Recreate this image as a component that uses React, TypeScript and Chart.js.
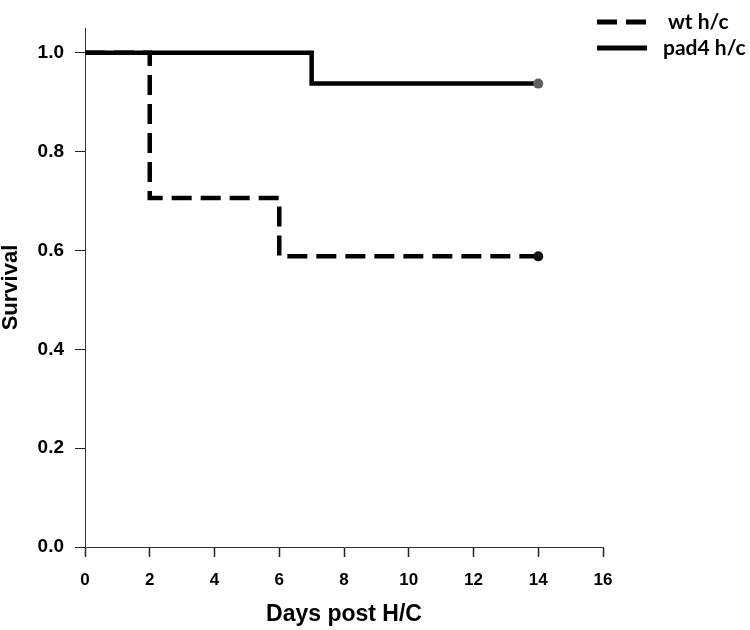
import React, { useEffect, useRef } from "react";
import { Chart, registerables } from "chart.js";

Chart.register(...registerables);

const seriesNames = ["wt h/c", "pad4 h/c"];
const wtDays = [0, 2, 6, 14];
const wtSurvival = [1.0, 0.706, 0.588, 0.588];
const pad4Days = [0, 7, 14];
const pad4Survival = [1.0, 0.9375, 0.9375];
const xTicks = [0, 2, 4, 6, 8, 10, 12, 14, 16];
const yTicks = [0, 0.2, 0.4, 0.6, 0.8, 1.0];
const xTitle = "Days post H/C";
const yTitle = "Survival";

const legendPlugin = {
  id: "kmLegend",
  afterDraw(chart: any) {
    const ctx = chart.ctx;
    const items = chart.data.datasets;
    const x0 = 597;
    const lineLen = 50;
    const textX = 663;
    const ys = [22, 48];
    ctx.save();
    items.forEach((ds: any, i: number) => {
      const y = ys[i];
      ctx.beginPath();
      ctx.setLineDash(ds.borderDash || []);
      ctx.lineWidth = 5;
      ctx.strokeStyle = "#000";
      ctx.moveTo(x0, y);
      ctx.lineTo(x0 + lineLen, y);
      ctx.stroke();
      ctx.setLineDash([]);
      ctx.fillStyle = "#000";
      ctx.font = "bold 21px Lato, 'Liberation Sans', sans-serif";
      ctx.textBaseline = "middle";
      ctx.textAlign = "left";
      ctx.fillText(ds.label, i === 0 ? textX + 5 : textX, y);
    });
    ctx.restore();
  },
};

export default function App() {
  const ref = useRef<HTMLCanvasElement | null>(null);
  useEffect(() => {
    document.body.style.margin = "0";
    const canvas = ref.current;
    if (!canvas) return;
    const chart = new Chart(canvas, {
      type: "line",
      data: {
        datasets: [
          {
            label: seriesNames[0],
            data: wtDays.map((d, i) => ({ x: d, y: wtSurvival[i] })),
            borderColor: "#000",
            backgroundColor: "#000",
            borderWidth: 4.5,
            borderDash: [20, 9],
            stepped: "before",
            pointRadius: wtDays.map((_, i) => (i === wtDays.length - 1 ? 5 : 0)),
            pointBackgroundColor: "#111",
            pointBorderWidth: 0,
            fill: false,
            order: 2,
          },
          {
            label: seriesNames[1],
            data: pad4Days.map((d, i) => ({ x: d, y: pad4Survival[i] })),
            borderColor: "#000",
            backgroundColor: "#000",
            borderWidth: 4.5,
            stepped: "before",
            pointRadius: pad4Days.map((_, i) => (i === pad4Days.length - 1 ? 5 : 0)),
            pointBackgroundColor: "#606060",
            pointBorderWidth: 0,
            fill: false,
            order: 1,
          },
        ],
      },
      options: {
        animation: false,
        responsive: false,
        layout: { padding: { left: 0, top: 28, right: 147, bottom: 0 } },
        plugins: {
          legend: { display: false },
          tooltip: { enabled: false },
        },
        scales: {
          x: {
            type: "linear",
            min: 0,
            max: 16,
            afterBuildTicks: (s: any) => {
              s.ticks = xTicks.map((v) => ({ value: v }));
            },
            afterFit: (s: any) => {
              s.height = 83;
            },
            grid: {
              drawOnChartArea: false,
              drawTicks: true,
              tickLength: 10,
              color: "#222",
              tickWidth: 1.5,
            },
            border: { display: true, color: "#333", width: 1 },
            ticks: {
              color: "#000",
              padding: 13,
              font: { family: "'Liberation Sans', Arial, sans-serif", size: 17, weight: "bold" },
              maxRotation: 0,
              callback: (v: any) => String(v),
            },
            title: {
              display: true,
              text: xTitle,
              color: "#000",
              font: { family: "'Liberation Sans', Arial, sans-serif", size: 23, weight: "bold", lineHeight: 1.2 },
              padding: { top: 0, bottom: 2 },
            },
          },
          y: {
            type: "linear",
            min: 0,
            max: 1.05,
            afterBuildTicks: (s: any) => {
              s.ticks = yTicks.map((v) => ({ value: v }));
            },
            afterFit: (s: any) => {
              s.width = 85;
            },
            grid: {
              drawOnChartArea: false,
              drawTicks: true,
              tickLength: 10,
              color: "#222",
            },
            border: { display: true, color: "#333", width: 1 },
            ticks: {
              color: "#000",
              padding: 11,
              font: { family: "'Liberation Sans', Arial, sans-serif", size: 19, weight: "bold" },
              callback: (v: any) => Number(v).toFixed(1),
            },
            title: {
              display: true,
              text: yTitle,
              color: "#000",
              font: { family: "'Liberation Sans', Arial, sans-serif", size: 22, weight: "bold", lineHeight: 1.0 },
              padding: { top: 0, bottom: 0 },
            },
          },
        },
      },
      plugins: [legendPlugin],
    } as any);
    return () => chart.destroy();
  }, []);
  return (
    <div style={{ width: 750, height: 630, background: "#fff" }}>
      <canvas ref={ref} width={750} height={630} />
    </div>
  );
}
